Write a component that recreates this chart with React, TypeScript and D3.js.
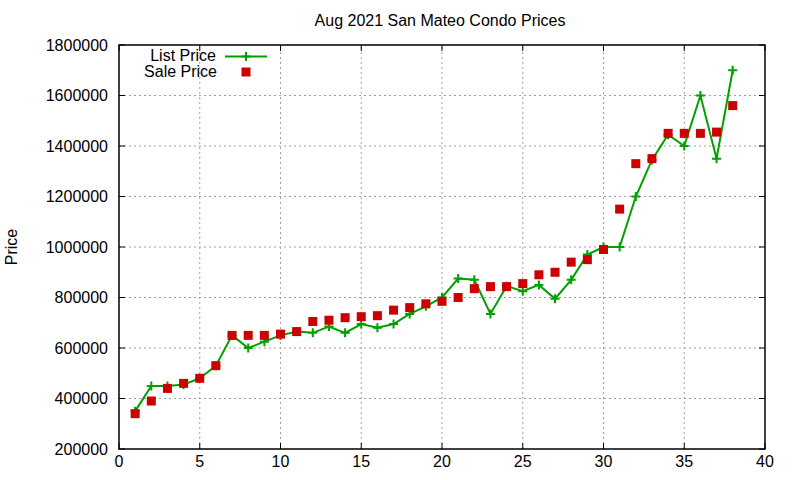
import React from 'react';
import * as d3 from 'd3';

// Aug 2021 San Mateo condo prices — list vs sale, per listing index
const INDEX = d3.range(1, 39);
const LIST_PRICE = [
  350000, 450000, 450000, 455000, 480000, 530000, 650000, 600000, 625000, 650000,
  665000, 660000, 685000, 660000, 695000, 680000, 695000, 735000, 765000, 800000,
  875000, 870000, 735000, 845000, 825000, 850000, 795000, 870000, 970000, 1000000,
  1000000, 1200000, 1345000, 1445000, 1400000, 1600000, 1350000, 1700000,
];
const SALE_PRICE = [
  340000, 390000, 440000, 460000, 480000, 530000, 650000, 650000, 650000, 655000,
  665000, 705000, 710000, 720000, 724000, 728000, 750000, 760000, 775000, 785000,
  800000, 835000, 843000, 843000, 855000, 890000, 900000, 940000, 950000, 990000,
  1150000, 1330000, 1350000, 1450000, 1450000, 1450000, 1455000, 1560000,
];
const X_TICKS = [0, 5, 10, 15, 20, 25, 30, 35, 40];
const Y_TICKS = [200000, 400000, 600000, 800000, 1000000, 1200000, 1400000, 1600000, 1800000];

const W = 800;
const H = 480;
const margin = { top: 45, right: 35, bottom: 31, left: 119 };
const FONT = '"Liberation Sans", Arial, sans-serif';
const GREEN = '#00a000';
const RED = '#cc0000';

function Plus({ x, y, s = 4.5 }: { x: number; y: number; s?: number }) {
  return (
    <path
      d={`M${x - s},${y}H${x + s}M${x},${y - s}V${y + s}`}
      stroke={GREEN}
      strokeWidth={2}
      fill="none"
    />
  );
}

export default function App() {
  const x = d3.scaleLinear().domain([0, 40]).range([margin.left, W - margin.right]);
  const y = d3.scaleLinear().domain([200000, 1800000]).range([H - margin.bottom, margin.top]);
  const [x0, x1] = x.range();
  const [y0, y1] = y.range();

  const line = d3
    .line<number>()
    .x((_d, i) => x(INDEX[i]))
    .y((d) => y(d));

  const sq = 9;

  return (
    <svg
      width={W}
      height={H}
      style={{ position: 'absolute', left: 0, top: 0, background: '#fff' }}
      fontFamily={FONT}
    >
      {/* grid */}
      <g stroke="#a0a0a0" strokeWidth={1} strokeDasharray="2,3">
        {X_TICKS.slice(1, -1).map((t) => (
          <line key={`gx${t}`} x1={x(t)} x2={x(t)} y1={y0} y2={y1} />
        ))}
        {Y_TICKS.slice(1, -1).map((t) => (
          <line key={`gy${t}`} x1={x0} x2={x1} y1={y(t)} y2={y(t)} />
        ))}
      </g>

      {/* ticks (mirrored like gnuplot) */}
      <g stroke="#000" strokeWidth={1}>
        {X_TICKS.map((t) => (
          <g key={`tx${t}`}>
            <line x1={x(t)} x2={x(t)} y1={y0} y2={y0 - 6} />
            <line x1={x(t)} x2={x(t)} y1={y1} y2={y1 + 6} />
          </g>
        ))}
        {Y_TICKS.map((t) => (
          <g key={`ty${t}`}>
            <line x1={x0} x2={x0 + 6} y1={y(t)} y2={y(t)} />
            <line x1={x1} x2={x1 - 6} y1={y(t)} y2={y(t)} />
          </g>
        ))}
      </g>

      {/* frame */}
      <rect x={x0} y={y1} width={x1 - x0} height={y0 - y1} fill="none" stroke="#000" strokeWidth={1.5} />

      {/* tick labels */}
      <g fontSize={16} fill="#000">
        {X_TICKS.map((t) => (
          <text key={`lx${t}`} x={x(t)} y={y0 + 18} textAnchor="middle">
            {t}
          </text>
        ))}
        {Y_TICKS.map((t) => (
          <text key={`ly${t}`} x={x0 - 11} y={y(t) + 5.5} textAnchor="end">
            {t}
          </text>
        ))}
      </g>

      {/* title & axis label */}
      <text x={440} y={26} fontSize={16} textAnchor="middle" fill="#000">
        Aug 2021 San Mateo Condo Prices
      </text>
      <text
        transform={`translate(17,${(y0 + y1) / 2}) rotate(-90)`}
        fontSize={16}
        textAnchor="middle"
        fill="#000"
      >
        Price
      </text>

      {/* list price line */}
      <path d={line(LIST_PRICE) ?? ''} fill="none" stroke={GREEN} strokeWidth={2} />
      {LIST_PRICE.map((d, i) => (
        <Plus key={`p${i}`} x={x(INDEX[i])} y={y(d)} />
      ))}

      {/* sale price squares */}
      {SALE_PRICE.map((d, i) => (
        <rect
          key={`s${i}`}
          x={x(INDEX[i]) - sq / 2}
          y={y(d) - sq / 2}
          width={sq}
          height={sq}
          fill={RED}
        />
      ))}

      {/* legend */}
      <g fontSize={16} fill="#000">
        <text x={216} y={61} textAnchor="end">List Price</text>
        <line x1={225} x2={267} y1={56.5} y2={56.5} stroke={GREEN} strokeWidth={2} />
        <Plus x={246} y={56.5} />
        <text x={217} y={77} textAnchor="end">Sale Price</text>
        <rect x={246 - sq / 2} y={72 - sq / 2} width={sq} height={sq} fill={RED} />
      </g>
    </svg>
  );
}
